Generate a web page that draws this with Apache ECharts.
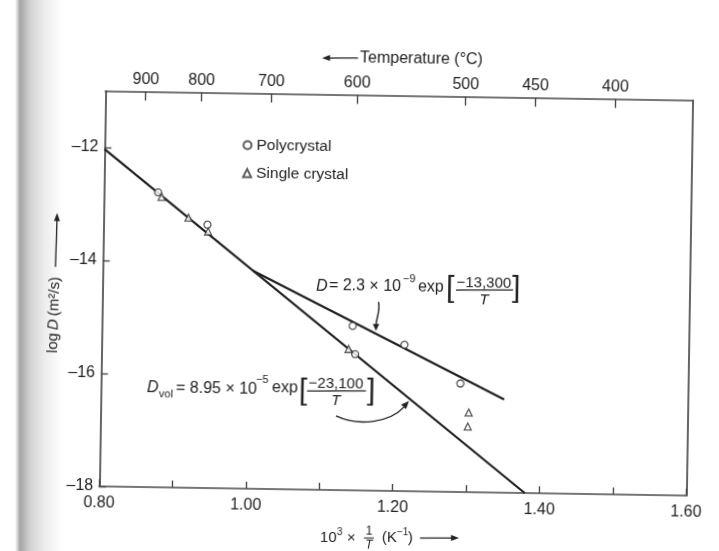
<!DOCTYPE html>
<html><head><meta charset="utf-8">
<script src="https://cdn.jsdelivr.net/npm/echarts@6/dist/echarts.min.js"></script>
<style>
html,body{margin:0;padding:0;width:719px;height:551px;overflow:hidden;
background:linear-gradient(to right,#fff 0,#fff 15px,#a4a4a4 20px,#d2d2d2 30px,#ededed 45px,#fff 62px);}
#c{width:719px;height:551px;transform:rotate(0.9deg);transform-origin:395.75px 293.25px;}
</style></head><body><div id="c"></div>
<script>
// ---- data ----
const polyX = [0.874, 0.942, 1.142, 1.146, 1.213, 1.290];
const polyY = [-12.78, -13.34, -15.09, -15.59, -15.41, -16.08];
const singleX = [0.879, 0.916, 0.943, 1.137, 1.302, 1.301];
const singleY = [-12.86, -13.22, -13.46, -15.50, -16.59, -16.84];
const volLineX = [0.80, 1.38];
const volLineY = [-12.03, -18.0];
const gbLineX = [1.005, 1.35];
const gbLineY = [-14.14, -16.35];
const tempTicksC = [900, 800, 700, 600, 500, 450, 400];
const tempTickPos = [0.855, 0.931, 1.026, 1.143, 1.291, 1.386, 1.495];
const yTickValues = [-18, -16, -14, -12];
const xLabelValues = [0.8, 1.0, 1.2, 1.4, 1.6];

const FONT = "'Liberation Sans', Arial, sans-serif";
const INK = '#222';

// reference-frame pixel -> unrotated canvas pixel
const TH = 0.9 * Math.PI / 180, CX = 395.75, CY = 293.25;
function P(x, y) { const dx = x - CX, dy = y - CY;
  return [CX + dx * Math.cos(TH) + dy * Math.sin(TH), CY - dx * Math.sin(TH) + dy * Math.cos(TH)]; }
function T(x, y, text, o) { const p = P(x, y);
  return { type: 'text', x: p[0], y: p[1], silent: true, z: 10,
    style: Object.assign({ text: text, fill: INK, fontFamily: FONT, fontSize: 15, align: 'left', verticalAlign: 'middle' }, o || {}) }; }
function L(x1, y1, x2, y2, w) { const a = P(x1, y1), b = P(x2, y2);
  return { type: 'line', silent: true, z: 10, shape: { x1: a[0], y1: a[1], x2: b[0], y2: b[1] }, style: { stroke: INK, lineWidth: w || 1.3 } }; }
function HEAD(tx, ty, dx, dy, len, hw) { const n = Math.hypot(dx, dy); dx /= n; dy /= n;
  const bx = tx - dx * len, by = ty - dy * len;
  const pts = [P(tx, ty), P(bx - dy * hw, by + dx * hw), P(bx + dy * hw, by - dx * hw)];
  return { type: 'polygon', silent: true, z: 10, shape: { points: pts }, style: { fill: INK } }; }
function BEZ(p0, c1, c2, p1) { const a = P(...p0), b = P(...c1), c = P(...c2), d = P(...p1);
  return { type: 'bezierCurve', silent: true, z: 10, shape: { x1: a[0], y1: a[1], cpx1: b[0], cpy1: b[1], cpx2: c[0], cpy2: c[1], x2: d[0], y2: d[1] },
    style: { stroke: INK, lineWidth: 1.4, fill: null } }; }

const graphics = [];
// annotation 1 (grain boundary)
graphics.push(T(316, 286, 'D', { fontStyle: 'italic', fontSize: 16 }));
graphics.push(T(329, 286, '= 2.3 × 10', { fontSize: 16 }));
graphics.push(T(403, 279, '−9', { fontSize: 11 }));
graphics.push(T(418, 287, 'exp', { fontSize: 16 }));
graphics.push(T(446, 289, '[', { fontSize: 30 }));
graphics.push(T(484, 283, '−13,300', { fontSize: 15, align: 'center' }));
graphics.push(L(456, 290, 513, 290, 1.2));
graphics.push(T(484, 300, 'T', { fontSize: 15, fontStyle: 'italic', align: 'center' }));
graphics.push(T(512, 289, ']', { fontSize: 30 }));
graphics.push(BEZ([378.5, 302], [380.5, 312], [376, 318], [376, 326]));
graphics.push(HEAD(376, 331, 0, 1, 7, 3.2));
// annotation 2 (volume)
graphics.push(T(147, 388, 'D', { fontStyle: 'italic', fontSize: 16 }));
graphics.push(T(159, 394, 'vol', { fontSize: 11 }));
graphics.push(T(176, 388, '= 8.95 × 10', { fontSize: 16 }));
graphics.push(T(256, 380, '−5', { fontSize: 11 }));
graphics.push(T(272, 388, 'exp', { fontSize: 16 }));
graphics.push(T(299, 391, '[', { fontSize: 30 }));
graphics.push(T(336, 384, '−23,100', { fontSize: 15, align: 'center' }));
graphics.push(L(307, 391, 366, 391, 1.2));
graphics.push(T(336, 401, 'T', { fontSize: 15, fontStyle: 'italic', align: 'center' }));
graphics.push(T(367, 391, ']', { fontSize: 30 }));
graphics.push(BEZ([336, 416], [360, 427], [390, 422], [404, 407]));
graphics.push(HEAD(409, 401, 1, -1.1, 8, 3.3));
// top axis title
graphics.push(T(360, 58, 'Temperature (°C)', { fontSize: 16 }));
graphics.push(L(328, 58, 358, 58, 1.3));
graphics.push(HEAD(322, 58, -1, 0, 8, 3));
// bottom axis name
graphics.push(T(320, 538, '10', { fontSize: 15 }));
graphics.push(T(337, 532, '3', { fontSize: 10 }));
graphics.push(T(347, 538, '×', { fontSize: 15 }));
graphics.push(T(369, 531, '1', { fontSize: 12, align: 'center' }));
graphics.push(L(364, 538, 374, 538, 1.1));
graphics.push(T(369, 545, 'T', { fontSize: 12, fontStyle: 'italic', align: 'center' }));
graphics.push(T(382, 538, '(K', { fontSize: 15 }));
graphics.push(T(397, 532, '−1', { fontSize: 10 }));
graphics.push(T(408, 538, ')', { fontSize: 15 }));
graphics.push(L(420, 538, 452, 538, 1.3));
graphics.push(HEAD(459, 538, 1, 0, 8, 3));
// y axis name (rotated group)
(function () {
  const c = P(55, 283);
  const t = (x, text, o) => ({ type: 'text', x: x, y: 0, silent: true,
    style: Object.assign({ text: text, fill: INK, fontFamily: FONT, fontSize: 15, align: 'left', verticalAlign: 'middle' }, o || {}) });
  graphics.push({ type: 'group', x: c[0], y: c[1], rotation: Math.PI / 2 - TH, z: 10, silent: true, children: [
    t(-70, 'log'),
    t(-47, 'D', { fontStyle: 'italic' }),
    t(-33, '(m²/s)'),
    { type: 'line', shape: { x1: 16, y1: 0, x2: 63, y2: 0 }, style: { stroke: INK, lineWidth: 1.3 } },
    { type: 'polygon', shape: { points: [[70, 0], [62, -3], [62, 3]] }, style: { fill: INK } }
  ] });
})();

const legPos = P(242.7, 136);
const axisLine = { show: true, onZero: false, lineStyle: { color: '#4a4a4a', width: 1.7 } };
const tickStyle = { color: '#4a4a4a', width: 1.4 };

const chart = echarts.init(document.getElementById('c'), null, { renderer: 'canvas' });
chart.setOption({
  animation: false,
  backgroundColor: 'transparent',
  grid: { left: 102.25, right: 29.75, top: 95.5, bottom: 60, containLabel: false, outerBoundsMode: 'none' },
  legend: {
    orient: 'vertical', left: legPos[0], top: legPos[1], padding: 0, itemWidth: 8, itemHeight: 8, itemGap: 10,
    textStyle: { fontFamily: FONT, fontSize: 15.5, color: INK, lineHeight: 18 },
    data: ['Polycrystal', 'Single crystal']
  },
  xAxis: [{
    type: 'value', position: 'bottom', min: 0.8, max: 1.6, interval: 0.1,
    axisLine: axisLine, splitLine: { show: false },
    axisTick: { show: true, inside: true, length: 7, lineStyle: tickStyle },
    axisLabel: { margin: 9, fontFamily: FONT, fontSize: 16, color: INK,
      formatter: v => { const k = Math.round(v * 10); return xLabelValues.some(x => Math.round(x * 10) === k) ? v.toFixed(2) : ''; } }
  }, {
    type: 'value', position: 'top', min: 0.8, max: 1.6,
    axisLine: axisLine, splitLine: { show: false },
    axisTick: { show: true, inside: true, length: 9, customValues: tempTickPos, lineStyle: tickStyle },
    axisLabel: { margin: 4, fontFamily: FONT, fontSize: 16, color: INK, customValues: tempTickPos,
      formatter: v => { const i = tempTickPos.findIndex(p => Math.abs(p - v) < 1e-6); return i >= 0 ? String(tempTicksC[i]) : ''; } }
  }],
  yAxis: [{
    type: 'value', position: 'left', min: -18, max: -11,
    axisLine: axisLine, splitLine: { show: false },
    axisTick: { show: true, inside: true, length: 7, customValues: yTickValues, lineStyle: tickStyle },
    axisLabel: { margin: 6, fontFamily: FONT, fontSize: 16, color: INK, customValues: yTickValues,
      formatter: v => '–' + Math.abs(v) }
  }, {
    type: 'value', position: 'right', min: -18, max: -11,
    axisLine: axisLine, splitLine: { show: false }, axisTick: { show: false }, axisLabel: { show: false }
  }],
  series: [
    { type: 'line', name: 'vol', data: volLineX.map((x, i) => [x, volLineY[i]]), symbol: 'none', silent: true,
      lineStyle: { color: '#1e1e1e', width: 2.2 }, z: 2 },
    { type: 'line', name: 'gb', data: gbLineX.map((x, i) => [x, gbLineY[i]]), symbol: 'none', silent: true,
      lineStyle: { color: '#1e1e1e', width: 2.2 }, z: 2 },
    { type: 'scatter', name: 'Polycrystal', data: polyX.map((x, i) => [x, polyY[i]]), symbol: 'circle', symbolSize: 7,
      itemStyle: { color: '#fff', borderColor: '#333', borderWidth: 1.3 }, z: 3 },
    { type: 'scatter', name: 'Single crystal', data: singleX.map((x, i) => [x, singleY[i]]), symbol: 'triangle', symbolSize: 7,
      itemStyle: { color: '#fff', borderColor: '#333', borderWidth: 1.3 }, z: 3 }
  ],
  graphic: graphics
});
</script></body></html>
